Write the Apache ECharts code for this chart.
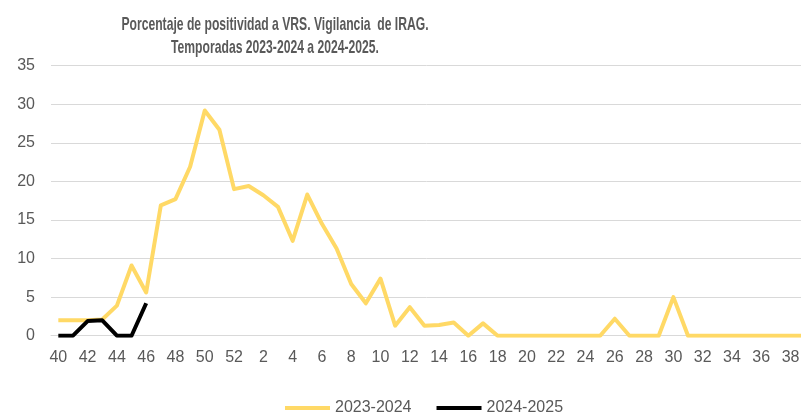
<!DOCTYPE html>
<html>
<head>
<meta charset="utf-8">
<script src="https://cdn.jsdelivr.net/npm/echarts@6/dist/echarts.min.js"></script>
<style>
  html, body { margin: 0; padding: 0; background: #fff; }
  #chart { width: 801px; height: 415px; }
</style>
</head>
<body>
<div id="chart"></div>
<script>
// semanas epidemiológicas 40..52 y 1..39
var weeks = [];
for (var w = 40; w <= 52; w++) weeks.push(String(w));
for (var w2 = 1; w2 <= 39; w2++) weeks.push(String(w2));

var season2324 = [
  2.0, 2.0, 2.0, 2.1, 3.9, 9.1, 5.6, 16.9, 17.7, 21.9, 29.2, 26.7, 19.0,
  19.4, 18.2, 16.7, 12.3, 18.3, 14.5, 11.3, 6.7, 4.2, 7.4, 1.3, 3.7, 1.3,
  1.4, 1.7, 0, 1.6, 0, 0, 0, 0, 0, 0, 0, 0, 2.2, 0, 0, 0,
  5.0, 0, 0, 0, 0, 0, 0, 0, 0, 0
];
var season2425 = [0, 0, 1.9, 2.0, 0, 0, 4.2];

var yTicks = { min: 0, max: 35, interval: 5 };

var titleLines = [
  'Porcentaje de positividad a VRS. Vigilancia  de IRAG.',
  'Temporadas 2023-2024 a 2024-2025.'
];

var gray = '#595959';
var font = '"Liberation Sans", Arial, sans-serif';

var chart = echarts.init(document.getElementById('chart'), null, { renderer: 'canvas' });

var option = {
  animation: false,
  backgroundColor: '#ffffff',
  graphic: [
    {
      // título comprimido en horizontal para parecerse a Calibri
      type: 'text',
      x: 275,
      y: 13,
      scaleX: 0.64,
      style: {
        text: titleLines.join('\n'),
        textAlign: 'center',
        textVerticalAlign: 'top',
        fill: gray,
        font: 'bold 19px "Liberation Sans", Arial, sans-serif',
        lineHeight: 23
      }
    }
  ],
  legend: {
    left: 280,
    top: 395,
    itemWidth: 45,
    itemHeight: 4,
    itemGap: 25,
    icon: 'rect',
    textStyle: { color: gray, fontSize: 16, fontFamily: font },
    data: ['2023-2024', '2024-2025']
  },
  grid: {
    left: 51,
    right: -11.5,
    top: 65.7,
    bottom: 79.3,
    outerBoundsMode: 'none',
    containLabel: false
  },
  xAxis: {
    type: 'category',
    data: weeks,
    boundaryGap: true,
    axisLine: { show: true, lineStyle: { color: '#d9d9d9', width: 1 } },
    axisTick: { show: false },
    axisLabel: {
      interval: 1,
      color: gray,
      fontSize: 16,
      fontFamily: font,
      margin: 14
    },
    splitLine: { show: false }
  },
  yAxis: {
    type: 'value',
    min: yTicks.min,
    max: yTicks.max,
    interval: yTicks.interval,
    axisLine: { show: false },
    axisTick: { show: false },
    axisLabel: { color: gray, fontSize: 16, fontFamily: font, margin: 16 },
    splitLine: { lineStyle: { color: '#d9d9d9', width: 1 } }
  },
  series: [
    {
      name: '2023-2024',
      type: 'line',
      data: season2324,
      symbol: 'none',
      color: '#FFD966',
      lineStyle: { color: '#FFD966', width: 4, join: 'round' }
    },
    {
      name: '2024-2025',
      type: 'line',
      data: season2425,
      symbol: 'none',
      color: '#000000',
      lineStyle: { color: '#000000', width: 4, join: 'round' }
    }
  ]
};

chart.setOption(option);
</script>
</body>
</html>
